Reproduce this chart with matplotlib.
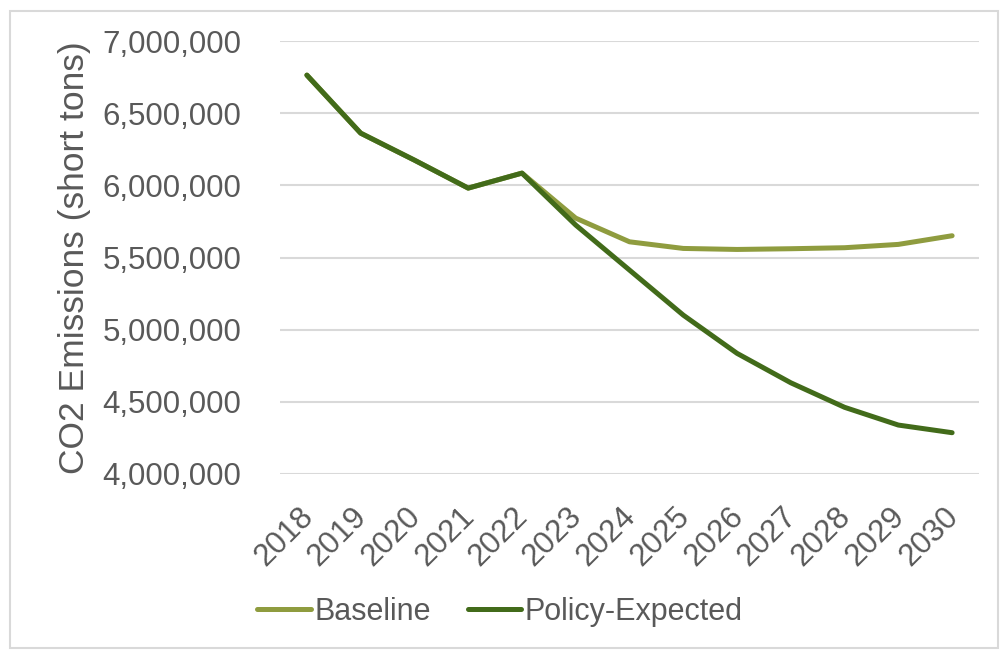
import matplotlib.pyplot as plt
import matplotlib.transforms as mtransforms
from matplotlib.ticker import FuncFormatter, MultipleLocator
from matplotlib.patches import Rectangle

plt.rcParams['font.family'] = ['Liberation Sans', 'DejaVu Sans']

years = [2018, 2019, 2020, 2021, 2022, 2023, 2024, 2025, 2026, 2027, 2028, 2029, 2030]
baseline = [6764000, 6362000, 6175000, 5981000, 6085000, 5773000, 5609000,
            5563000, 5556000, 5561000, 5568000, 5591000, 5651000]
policy = [6764000, 6362000, 6175000, 5981000, 6085000, 5725000, 5413000,
          5101000, 4836000, 4632000, 4462000, 4339000, 4286000]

text_col = '#595959'
grid_col = '#D9D9D9'

fig = plt.figure(figsize=(10, 6.5), dpi=100)
ax = fig.add_axes([0.28, 0.2708, 0.699, 0.666])

ax.plot(years, baseline, color='#8F9C3F', lw=3.6, solid_capstyle='round',
        solid_joinstyle='round', label='Baseline')
ax.plot(years, policy, color='#426B1A', lw=3.6, solid_capstyle='round',
        solid_joinstyle='round', label='Policy-Expected')

ax.set_xlim(2017.5, 2030.5)
ax.set_ylim(4000000, 7000000)
ax.yaxis.set_major_locator(MultipleLocator(500000))
ax.yaxis.set_major_formatter(FuncFormatter(lambda v, p: f'{int(v):,}'))
ax.set_xticks(years)
ax.set_xticklabels([str(y) for y in years], rotation=45, ha='right',
                   rotation_mode='anchor', fontsize=22.5, color=text_col)
ax.tick_params(axis='x', length=0, pad=14)
ax.tick_params(axis='y', length=0, pad=28, labelsize=22.5, labelcolor=text_col)

# nudge the slanted year labels down and left
shift = mtransforms.ScaledTranslation(-0.09, -0.08, fig.dpi_scale_trans)
for lbl in ax.get_xticklabels():
    lbl.set_transform(lbl.get_transform() + shift)

ax.grid(axis='y', color=grid_col, lw=1.5)
ax.set_axisbelow(True)
for s in ax.spines.values():
    s.set_visible(False)

ax.set_ylabel('CO2 Emissions (short tons)', fontsize=25.5, color=text_col, labelpad=8)

ax.legend(loc='center', bbox_to_anchor=(0.5, 1 - 612 / 650), bbox_transform=fig.transFigure,
          ncol=2, frameon=False, fontsize=22, labelcolor=text_col,
          handlelength=1.75, handletextpad=0.12, columnspacing=1.2)

# outer chart border
fig.patches.append(Rectangle((10 / 1000, 2 / 650), 988 / 1000, 637 / 650,
                             transform=fig.transFigure, fill=False,
                             edgecolor=grid_col, lw=1.5))

fig.savefig('out.png', dpi=100)
